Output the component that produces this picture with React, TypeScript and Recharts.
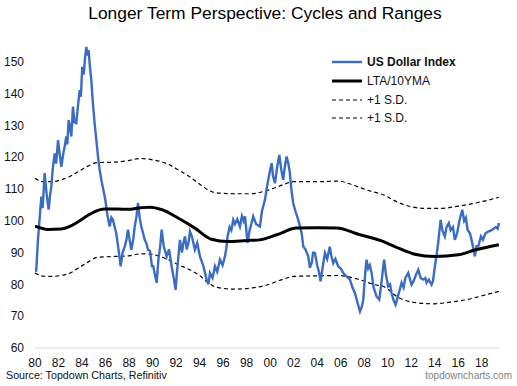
import { LineChart, Line, XAxis, YAxis } from "recharts";

// US Dollar Index, year as decimal
const dxyYears = [
  1980.0, 1980.1, 1980.25, 1980.4, 1980.54, 1980.65, 1980.82, 1981.0, 1981.16, 1981.28,
  1981.39, 1981.5, 1981.67, 1981.8, 1981.96, 1982.1, 1982.24, 1982.4, 1982.52, 1982.66,
  1982.75, 1982.86, 1983.0, 1983.09, 1983.23, 1983.35, 1983.51, 1983.65, 1983.8, 1983.9,
  1984.02, 1984.15, 1984.25, 1984.37, 1984.45, 1984.56, 1984.68, 1984.79, 1984.92, 1985.07,
  1985.2, 1985.36, 1985.5, 1985.64, 1985.8, 1985.98, 1986.15, 1986.35, 1986.5, 1986.63,
  1986.78, 1986.91, 1987.1, 1987.29, 1987.45, 1987.63, 1987.78, 1987.91, 1988.05, 1988.19,
  1988.35, 1988.48, 1988.62, 1988.76, 1988.9, 1989.04, 1989.2, 1989.33, 1989.47, 1989.61,
  1989.78, 1989.95, 1990.06, 1990.2, 1990.35, 1990.5, 1990.65, 1990.77, 1990.95, 1991.2,
  1991.4, 1991.62, 1991.8, 1991.96, 1992.1, 1992.33, 1992.5, 1992.62, 1992.76, 1992.9,
  1993.05, 1993.18, 1993.35, 1993.6, 1993.8, 1994.03, 1994.3, 1994.6, 1994.75, 1994.88,
  1995.1, 1995.31, 1995.5, 1995.73, 1995.95, 1996.16, 1996.3, 1996.38, 1996.55, 1996.7,
  1996.86, 1997.0, 1997.2, 1997.43, 1997.6, 1997.75, 1997.86, 1998.08, 1998.25, 1998.4,
  1998.56, 1998.8, 1999.13, 1999.3, 1999.56, 1999.7, 1999.84, 2000.0, 2000.13, 2000.25,
  2000.41, 2000.6, 2000.78, 2000.95, 2001.11, 2001.25, 2001.4, 2001.55, 2001.68, 2001.8,
  2001.96, 2002.15, 2002.39, 2002.55, 2002.68, 2002.82, 2003.0, 2003.24, 2003.38, 2003.55,
  2003.65, 2003.81, 2004.0, 2004.15, 2004.29, 2004.45, 2004.66, 2004.85, 2005.08, 2005.2,
  2005.37, 2005.55, 2005.79, 2006.0, 2006.22, 2006.5, 2006.79, 2007.0, 2007.21, 2007.45,
  2007.64, 2007.8, 2007.92, 2008.1, 2008.2, 2008.34, 2008.48, 2008.63, 2008.8, 2009.05,
  2009.28, 2009.45, 2009.6, 2009.7, 2009.85, 2010.04, 2010.2, 2010.33, 2010.5, 2010.67,
  2010.85, 2011.0, 2011.18, 2011.35, 2011.5, 2011.74, 2012.03, 2012.2, 2012.4, 2012.6,
  2012.8, 2013.02, 2013.2, 2013.31, 2013.5, 2013.73, 2013.85, 2014.01, 2014.15, 2014.29,
  2014.4, 2014.5, 2014.65, 2014.86, 2015.0, 2015.2, 2015.35, 2015.55, 2015.71, 2015.9,
  2016.1, 2016.34, 2016.5, 2016.65, 2016.79, 2017.0, 2017.13, 2017.3, 2017.41, 2017.55,
  2017.7, 2017.93, 2018.1, 2018.3, 2018.55, 2018.8, 2019.0, 2019.2, 2019.35, 2019.46,
];
const dxyValues = [
  85.2, 84, 94, 101, 107.6, 104, 115, 108, 103.5, 108,
  110.8, 116, 121.2, 118, 125.4, 121, 117, 121, 123.3, 126.5,
  124, 131.7, 129, 126.5, 135.9, 131, 130.7, 136, 141.1, 139,
  148.4, 146, 151, 154.7, 152, 153.7, 148, 144.3, 137, 130.7,
  126, 120.2, 116, 112.9, 110, 106.6, 102, 98.2, 101, 100.3,
  98, 96.1, 91, 85.7, 90, 91.9, 94, 97.2, 94, 90.9,
  94, 98.2, 101, 105.6, 101, 98.2, 96, 94, 93, 90.9,
  90.5, 85.7, 85.7, 83, 80.5, 88, 92, 97.2, 92, 88.8,
  91, 85.7, 82, 78.3, 85, 94, 90, 93, 95.1, 91,
  93, 96.6, 95, 90.9, 93, 88.8, 86, 81.5, 80, 83.6,
  82, 85.7, 84, 87.8, 86, 88.8, 92, 95.1, 98, 97,
  100.3, 99, 100.5, 98.2, 101.5, 100, 101.4, 93, 97, 99,
  101.4, 99, 98.2, 103, 106.6, 110, 112.9, 116, 118.1, 114,
  111.8, 117, 120.7, 116, 112.9, 117, 120.2, 118, 115, 110,
  105.6, 103, 100.3, 98, 96.1, 91.9, 91, 88.8, 85.2, 87,
  90, 89.9, 86, 84, 81, 85, 89.9, 88, 91.9, 89,
  86.7, 88, 85.7, 85, 83.6, 82.5, 81.5, 79, 77.3, 74,
  71.5, 73, 75.2, 84, 87.8, 85, 86, 83.6, 79, 76.2,
  75.2, 80, 85, 87.8, 83, 79.4, 80, 77.3, 75, 73.6,
  76, 78, 80.5, 79, 82, 83.6, 79.9, 81, 83, 84.6,
  82, 81.5, 82, 80.5, 81.5, 79.9, 81, 85.7, 89, 93,
  97, 100.3, 97, 95.1, 98, 99.3, 97, 98, 94, 96,
  100, 103.5, 100, 101, 97.2, 96, 94, 91, 88.8, 92,
  92, 95.1, 94, 96, 96.6, 97, 97.5, 98, 97.5, 99.3,
];

// LTA / 10YMA
const ltaYears = [
  1980, 1981.1, 1982.2, 1983.0, 1983.7, 1984.4, 1985.1, 1985.9, 1987.0, 1987.9,
  1989.0, 1989.8, 1990.8, 1992.2, 1993.6, 1995.0, 1996.4, 1998.0, 1999.1, 2000.55,
  2002.25, 2004.0, 2005.65, 2007.64, 2009.6, 2010.6, 2012.3, 2014.0, 2016.0, 2017.4,
  2019.45,
];
const ltaValues = [
  98.3, 97.3, 97.4, 98.3, 99.8, 101.5, 102.9, 103.7, 103.7, 103.6,
  104.1, 104.3, 103.5, 100.8, 97.7, 94.2, 93.5, 93.8, 94, 95.6,
  97.7, 97.8, 97.7, 95.6, 93.5, 91.9, 89.5, 88.8, 89.3, 90.8,
  92.5,
];

// +1 S.D. (upper band)
const upperYears = [
  1980, 1980.7, 1981.5, 1982.2, 1983.0, 1983.7, 1984.5, 1985.3, 1986.5, 1987.9,
  1989.0, 1989.8, 1991.2, 1992.2, 1993.1, 1993.9, 1995.0, 1995.7, 1997.0, 1998.3,
  1999.8, 2001.0, 2002.0, 2004.0, 2005.8, 2007.0, 2008.2, 2009.6, 2011.0, 2012.3,
  2013.3, 2014.5, 2016.0, 2018.1, 2019.45,
];
const upperValues = [
  113.4, 112.3, 112.3, 112.9, 114, 115.5, 117.2, 118.3, 118.4, 118.9,
  119.6, 119.3, 118, 116, 114, 111.8, 109.2, 108.7, 108.5, 108.5,
  109.6, 111.2, 112.3, 112.3, 112.5, 111.3, 109.7, 108.2, 105.6, 104.2,
  103.9, 103.9, 104.6, 106.1, 107.4,
];

// lower band (labelled "+1 S.D." in the source)
const lowerYears = [
  1980, 1980.7, 1981.5, 1982.2, 1983.0, 1983.7, 1984.5, 1985.3, 1986.8, 1988.0,
  1989.0, 1989.8, 1991.0, 1992.2, 1993.2, 1994.0, 1994.7, 1995.7, 1997.0, 1998.3,
  1999.8, 2001.0, 2002.0, 2004.0, 2005.8, 2007.6, 2008.9, 2009.6, 2011.0, 2012.3,
  2013.9, 2015.3, 2016.7, 2018.1, 2019.45,
];
const lowerValues = [
  83.6, 82.6, 82.5, 82.8, 83.6, 85.2, 87, 88.5, 88.8, 89,
  89.6, 89.5, 88.3, 86.2, 84.5, 82.8, 80.5, 78.9, 78.5, 78.8,
  79.9, 81.5, 82.5, 82.7, 82.8, 81.5, 79.9, 79.4, 75.7, 74.3,
  73.9, 74.4, 75.2, 76.5, 77.8,
];

const xTicks = [
  1980, 1982, 1984, 1986, 1988, 1990, 1992, 1994, 1996, 1998,
  2000, 2002, 2004, 2006, 2008, 2010, 2012, 2014, 2016, 2018,
];
const yTicks = [60, 70, 80, 90, 100, 110, 120, 130, 140, 150];

const zip = (xs: number[], ys: number[]) => xs.map((t, i) => ({ t, v: ys[i] }));

const dxy = zip(dxyYears, dxyValues);
const lta = zip(ltaYears, ltaValues);
const upper = zip(upperYears, upperValues);
const lower = zip(lowerYears, lowerValues);

const font = "'Liberation Sans', Arial, sans-serif";
const blue = "#3a6cc4";

const legendItems = [
  { name: "US Dollar Index", color: blue, width: 2.4, dash: undefined, bold: true },
  { name: "LTA/10YMA", color: "#000", width: 3, dash: undefined, bold: false },
  { name: "+1 S.D.", color: "#000", width: 1.2, dash: "4 3", bold: false },
  { name: "+1 S.D.", color: "#000", width: 1.2, dash: "4 3", bold: false },
];

function ChartLegend() {
  return (
    <div
      style={{
        position: "absolute",
        left: 332,
        top: 53,
        fontFamily: font,
        fontSize: 12,
        color: "#111",
      }}
    >
      {legendItems.map((it, i) => (
        <div key={i} style={{ display: "flex", alignItems: "center", height: 18.7 }}>
          <svg width={35} height={10}>
            <line
              x1={0}
              x2={30}
              y1={5}
              y2={5}
              stroke={it.color}
              strokeWidth={it.width}
              strokeDasharray={it.dash}
            />
          </svg>
          <span style={{ fontWeight: it.bold ? "bold" : "normal" }}>{it.name}</span>
        </div>
      ))}
    </div>
  );
}

export default function App() {
  return (
    <div
      style={{
        position: "absolute",
        left: 0,
        top: 0,
        width: 517,
        height: 386,
        background: "#fff",
        fontFamily: font,
      }}
    >
      <div
        style={{
          position: "absolute",
          left: 0,
          width: 530,
          top: 3,
          textAlign: "center",
          fontSize: 17.4,
          color: "#000",
        }}
      >
        Longer Term Perspective: Cycles and Ranges
      </div>

      <LineChart
        width={517}
        height={386}
        margin={{ top: 30, right: 17, bottom: 0, left: 0 }}
      >
        <XAxis
          dataKey="t"
          type="number"
          domain={[1980, 2019.55]}
          ticks={xTicks}
          allowDataOverflow
          tickFormatter={(v: number) => String(v).slice(2)}
          height={38}
          tickLine={false}
          tickMargin={4}
          axisLine={{ stroke: "#d9d9d9", strokeWidth: 1 }}
          tick={{ fill: "#111", fontSize: 12, fontFamily: font }}
        />
        <YAxis
          type="number"
          domain={[60, 160]}
          ticks={yTicks}
          allowDataOverflow
          width={35}
          axisLine={false}
          tickLine={false}
          tickMargin={5}
          tick={{ fill: "#111", fontSize: 12, fontFamily: font }}
        />
        <Line
          data={upper}
          dataKey="v"
          type="monotone"
          stroke="#000"
          strokeWidth={1.2}
          strokeDasharray="4 3"
          dot={false}
          isAnimationActive={false}
        />
        <Line
          data={lower}
          dataKey="v"
          type="monotone"
          stroke="#000"
          strokeWidth={1.2}
          strokeDasharray="4 3"
          dot={false}
          isAnimationActive={false}
        />
        <Line
          data={dxy}
          dataKey="v"
          type="linear"
          stroke={blue}
          strokeWidth={2.4}
          dot={false}
          isAnimationActive={false}
        />
        <Line
          data={lta}
          dataKey="v"
          type="monotone"
          stroke="#000"
          strokeWidth={3}
          dot={false}
          isAnimationActive={false}
        />
      </LineChart>

      <ChartLegend />

      <div
        style={{
          position: "absolute",
          left: 6,
          top: 369,
          fontSize: 10.7,
          color: "#111",
        }}
      >
        Source: Topdown Charts, Refinitiv
      </div>
      <div
        style={{
          position: "absolute",
          right: 5,
          top: 370,
          fontSize: 10,
          color: "#7f7f7f",
        }}
      >
        topdowncharts.com
      </div>
    </div>
  );
}
